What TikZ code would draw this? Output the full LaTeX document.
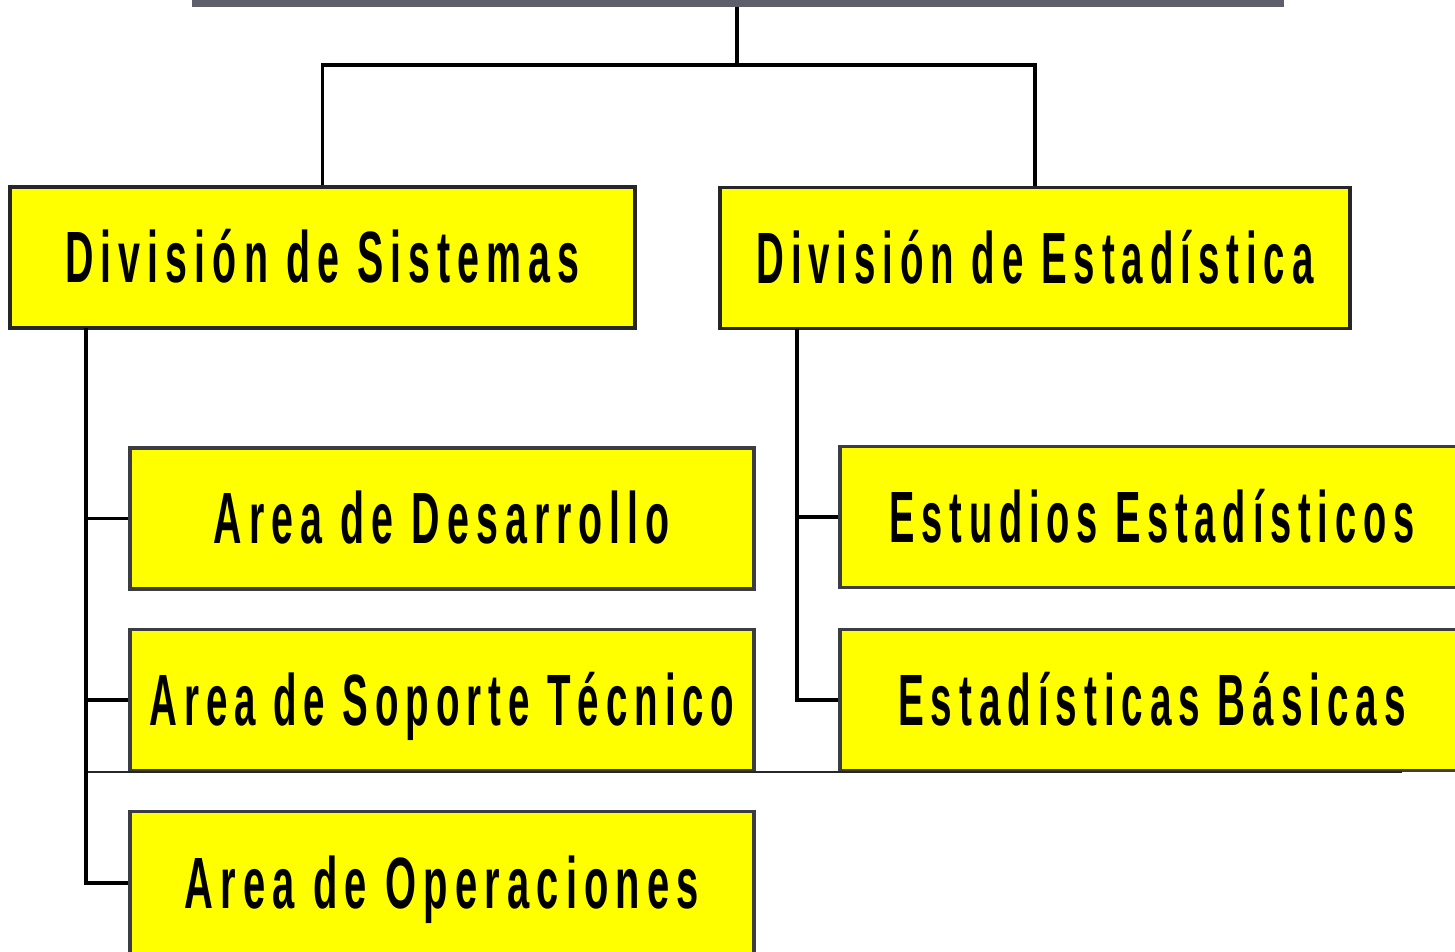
\documentclass[tikz,border=0pt]{standalone}
\usepackage{fontspec}
\newfontfamily\labelfont{Liberation Sans}[LetterSpace=18]
\definecolor{boxyellow}{RGB}{255,255,0}
\definecolor{boxedge}{RGB}{60,60,68}
\definecolor{bargrey}{RGB}{95,95,108}
\newcommand\boxlabel[2]{\resizebox{#1pt}{50pt}{\labelfont\bfseries\vphantom{E}\smash{#2}}}
\tikzset{
  orgbox/.style={draw=boxedge, fill=boxyellow, line width=3.5pt, inner sep=0pt, minimum width=624pt, minimum height=141pt},
  divbox/.style={orgbox, draw=black!85, minimum height=141pt},
  link/.style={draw=black, line width=3.5pt},
  thinrule/.style={draw=black!85, line width=2.2pt}
}
\begin{document}
\begin{tikzpicture}[x=1pt,y=-1pt]
\useasboundingbox[fill=white] (0,0) rectangle (1455,951);
% top bar (bottom of cut-off box)
\fill[bargrey] (192,-5) rectangle (1284,7);
\coordinate (top) at (737,7);
\coordinate (mid) at (737,65);
% division boxes
\node[divbox, minimum width=625pt] (sis) at (322.5,257.5) {\boxlabel{514}{División de Sistemas}};
\node[divbox, minimum width=630pt] (est) at (1035,258) {\boxlabel{557}{División de Estadística}};
% area boxes
\node[orgbox] (des) at (442,518.5) {\boxlabel{456}{Area de Desarrollo}};
\node[orgbox] (sop) at (442,700) {\boxlabel{585}{Area de Soporte Técnico}};
\node[orgbox, minimum height=143pt] (ope) at (442,883) {\boxlabel{514}{Area de Operaciones}};
\node[orgbox] (estu) at (1152,517) {\boxlabel{525}{Estudios Estadísticos}};
\node[orgbox] (bas) at (1152,700) {\boxlabel{508}{Estadísticas Básicas}};
% top connectors
\draw[link] (top) -- (mid);
\draw[link] (mid) -| (sis.north);
\draw[link] (mid) -| (est.north);
% left trunk
\coordinate (lt) at (86,328);
\coordinate (rt) at (797,329);
\draw[link] (lt) |- (ope.west);
\draw[link] (lt |- des.west) -- (des.west);
\draw[link] (lt |- sop.west) -- (sop.west);
% right trunk
\draw[link] (rt) |- (bas.west);
\draw[link] (rt |- estu.west) -- (estu.west);
% horizontal rule across
\coordinate (ruleL) at (88,772);
\coordinate (ruleR) at (1402,772);
\draw[thinrule] (ruleL) -- (ruleR);
\end{tikzpicture}
\end{document}
